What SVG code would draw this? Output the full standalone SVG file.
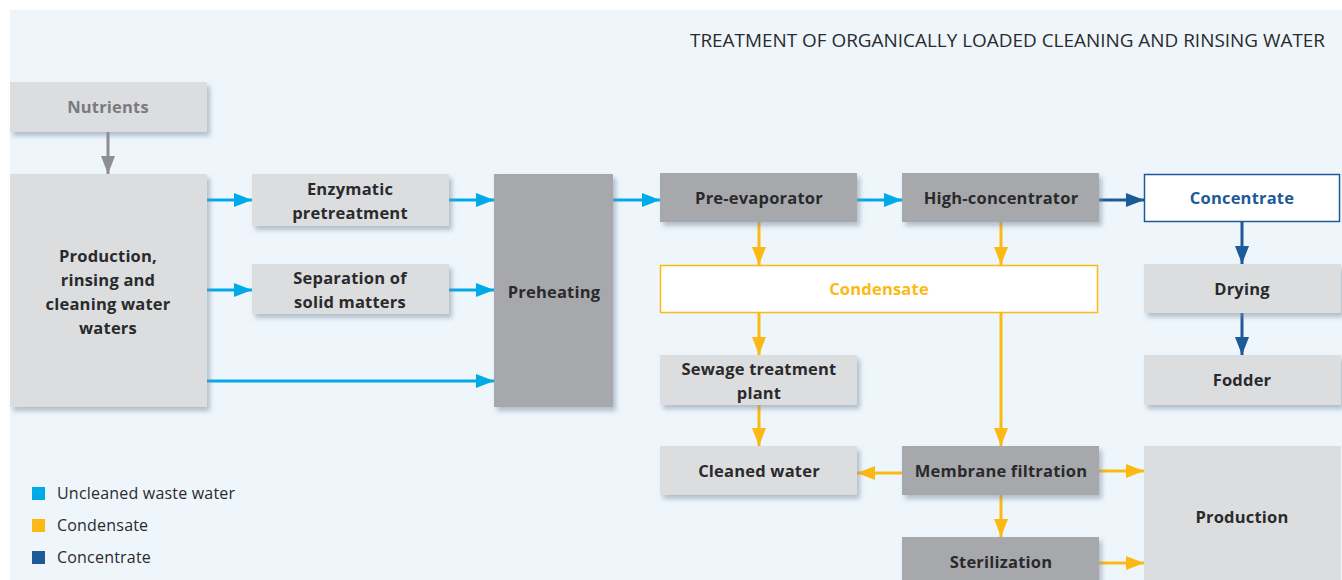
<svg xmlns="http://www.w3.org/2000/svg" width="1342" height="580" viewBox="0 0 1342 580">
<style>
.l{fill:#DCDDDF}
.d{fill:#A7A8AB}
.t{font-family:"Open Sans","Noto Sans",sans-serif;font-weight:bold;font-size:16.5px;letter-spacing:0.2px;fill:#2A2A2C;text-anchor:middle}
.lg{font-family:"Open Sans","Noto Sans",sans-serif;font-size:16px;letter-spacing:0.2px;fill:#2A2A2C}
.cb{stroke:#00A9E8;stroke-width:3;fill:none;marker-end:url(#ab)}
.co{stroke:#FDB913;stroke-width:3;fill:none;marker-end:url(#ao)}
.cd{stroke:#1C5A99;stroke-width:3;fill:none;marker-end:url(#ad)}
.cg{stroke:#8E8F92;stroke-width:3;fill:none;marker-end:url(#ag)}
</style>
<defs>
<filter id="sh" x="-10%" y="-10%" width="130%" height="140%">
<feDropShadow dx="3" dy="4" stdDeviation="2.5" flood-color="#7f8fa0" flood-opacity="0.55"/>
</filter>
<marker id="ab" markerWidth="18" markerHeight="14" refX="18" refY="7" orient="auto" markerUnits="userSpaceOnUse"><path d="M0,0 L18,7 L0,14 Z" fill="#00A9E8"/></marker>
<marker id="ao" markerWidth="18" markerHeight="14" refX="18" refY="7" orient="auto" markerUnits="userSpaceOnUse"><path d="M0,0 L18,7 L0,14 Z" fill="#FDB913"/></marker>
<marker id="ad" markerWidth="18" markerHeight="14" refX="18" refY="7" orient="auto" markerUnits="userSpaceOnUse"><path d="M0,0 L18,7 L0,14 Z" fill="#1C5A99"/></marker>
<marker id="ag" markerWidth="18" markerHeight="14" refX="18" refY="7" orient="auto" markerUnits="userSpaceOnUse"><path d="M0,0 L18,7 L0,14 Z" fill="#8E8F92"/></marker>
</defs>
<rect x="0" y="0" width="1342" height="580" fill="#FFFFFF"/>
<rect x="10" y="10" width="1332" height="570" fill="#EEF6FC"/>
<text x="1325" y="47" font-family="'Open Sans','Noto Sans',sans-serif" font-size="19" fill="#2A2A2C" text-anchor="end" textLength="635" lengthAdjust="spacingAndGlyphs">TREATMENT OF ORGANICALLY LOADED CLEANING AND RINSING WATER</text>

<g id="connectors">
<path class="cg" d="M108,132 V174"/>
<path class="cb" d="M207,200 H252"/>
<path class="cb" d="M207,290 H252"/>
<path class="cb" d="M207,381 H494"/>
<path class="cb" d="M449,200 H494"/>
<path class="cb" d="M449,290 H494"/>
<path class="cb" d="M613,200 H660"/>
<path class="cb" d="M857,200 H902"/>
<path class="cd" d="M1099,200 H1144"/>
<path class="cd" d="M1242,222 V264"/>
<path class="cd" d="M1242,313 V355"/>
<path class="co" d="M759,222 V265"/>
<path class="co" d="M1001,222 V265"/>
<path class="co" d="M759,313 V355"/>
<path class="co" d="M1001,313 V446"/>
<path class="co" d="M759,405 V446"/>
<path class="co" d="M902,473 H857"/>
<path class="co" d="M1099,471 H1144"/>
<path class="co" d="M1001,495 V537"/>
<path class="co" d="M1099,563 H1144"/>
</g>

<g id="nutrients"><rect class="l" x="10" y="82" width="197" height="50" filter="url(#sh)"/><text class="t" x="108" y="113" style="fill:#7A7B7E">Nutrients</text></g>
<g id="production-rinsing"><rect class="l" x="10" y="174" width="197" height="233" filter="url(#sh)"/><text class="t" x="108" y="262">Production,</text><text class="t" x="108" y="286">rinsing and</text><text class="t" x="108" y="310">cleaning water</text><text class="t" x="108" y="334">waters</text></g>
<g id="enzymatic"><rect class="l" x="252" y="174" width="197" height="52" filter="url(#sh)"/><text class="t" x="350" y="195">Enzymatic</text><text class="t" x="350" y="219">pretreatment</text></g>
<g id="separation"><rect class="l" x="252" y="264" width="197" height="50" filter="url(#sh)"/><text class="t" x="350" y="284">Separation of</text><text class="t" x="350" y="308">solid matters</text></g>
<g id="preheating"><rect class="d" x="494" y="174" width="119" height="233" filter="url(#sh)"/><text class="t" x="554" y="298">Preheating</text></g>
<g id="pre-evaporator"><rect class="d" x="660" y="173" width="197" height="49" filter="url(#sh)"/><text class="t" x="759" y="204">Pre-evaporator</text></g>
<g id="high-concentrator"><rect class="d" x="902" y="173" width="197" height="49" filter="url(#sh)"/><text class="t" x="1001" y="204">High-concentrator</text></g>
<g id="concentrate"><rect x="1144.5" y="174.5" width="195" height="47" fill="#FFFFFF" stroke="#1C5A99" stroke-width="1.5"/><text class="t" x="1242" y="204" style="fill:#1C5A99">Concentrate</text></g>
<g id="condensate"><rect x="660.5" y="265.5" width="437" height="47" fill="#FFFFFF" stroke="#FDB913" stroke-width="1.5"/><text class="t" x="879" y="295" style="fill:#FDB913">Condensate</text></g>
<g id="drying"><rect class="l" x="1144" y="264" width="197" height="49" filter="url(#sh)"/><text class="t" x="1242" y="295">Drying</text></g>
<g id="fodder"><rect class="l" x="1144" y="355" width="197" height="50" filter="url(#sh)"/><text class="t" x="1242" y="386">Fodder</text></g>
<g id="sewage"><rect class="l" x="660" y="355" width="197" height="50" filter="url(#sh)"/><text class="t" x="759" y="375">Sewage treatment</text><text class="t" x="759" y="399">plant</text></g>
<g id="cleaned-water"><rect class="l" x="660" y="446" width="197" height="49" filter="url(#sh)"/><text class="t" x="759" y="477">Cleaned water</text></g>
<g id="membrane"><rect class="d" x="902" y="446" width="197" height="49" filter="url(#sh)"/><text class="t" x="1001" y="477">Membrane filtration</text></g>
<g id="sterilization"><rect class="d" x="902" y="537" width="197" height="49" filter="url(#sh)"/><text class="t" x="1001" y="568">Sterilization</text></g>
<g id="production"><rect class="l" x="1144" y="446" width="197" height="140"/><text class="t" x="1242" y="523">Production</text></g>

<g id="legend">
<rect x="32" y="487" width="13" height="13" fill="#00A9E8"/><text class="lg" x="57" y="499">Uncleaned waste water</text>
<rect x="32" y="519" width="13" height="13" fill="#FDB913"/><text class="lg" x="57" y="531">Condensate</text>
<rect x="32" y="551" width="13" height="13" fill="#1C5A99"/><text class="lg" x="57" y="563">Concentrate</text>
</g>
</svg>
